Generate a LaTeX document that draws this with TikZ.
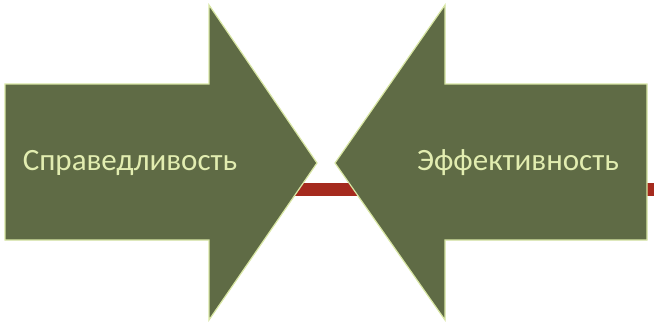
\documentclass[tikz,border=0pt]{standalone}
\usepackage{fontspec}
\setmainfont{Carlito}
\definecolor{olive}{HTML}{5F6B45}
\definecolor{rim}{HTML}{D8E6A4}
\definecolor{txt}{HTML}{E2EDB0}
\definecolor{bar}{HTML}{A52A1E}
\begin{document}
\begin{tikzpicture}[x=1pt,y=-1pt,
  bigarrow/.style={fill=olive,draw=rim,line width=1.2pt,line join=miter},
  lbl/.style={text=txt,font=\fontsize{31}{36}\selectfont,inner sep=0pt}]
\useasboundingbox (0,0) rectangle (654,324);
\fill[bar] (290,183) rectangle (654,196);
\draw[bigarrow] (5,84) -- (209,84) -- (209,5) -- (317,163) -- (209,320) -- (209,240) -- (5,240) -- cycle;
\draw[bigarrow] (647,84) -- (445,84) -- (445,5) -- (335,163) -- (445,320) -- (445,240) -- (647,240) -- cycle;
\node[lbl] (l) at (130,163) {Справедливость};
\node[lbl] (r) at (518,163) {Эффективность};
\end{tikzpicture}
\end{document}
